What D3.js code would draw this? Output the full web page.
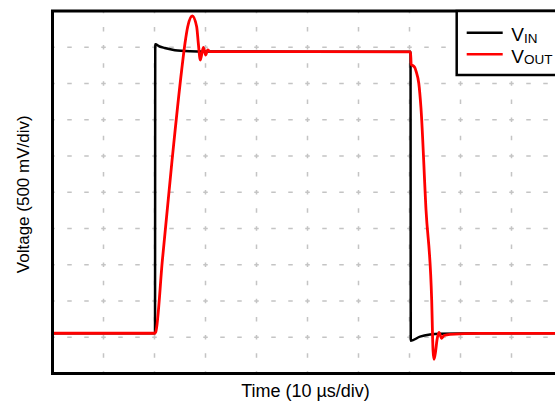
<!DOCTYPE html>
<html>
<head>
<meta charset="utf-8">
<script src="https://cdn.jsdelivr.net/npm/d3@7"></script>
<style>
  body { margin: 0; background: #fff; }
  svg { display: block; font-family: "Liberation Sans", Arial, sans-serif; }
</style>
</head>
<body>
<svg id="chart"></svg>
<script>
// time in us, voltage in V (10 us/div, 0.5 V/div)
const vinTime  = [0, 20.1, 20.15, 21, 22, 24, 27, 30, 70.2, 70.25, 72.06, 74.02, 75.98, 83.8, 100];
const vinVolts = [0.555, 0.555, 4.54, 4.51, 4.49, 4.46, 4.445, 4.441, 4.437, 0.452, 0.508, 0.538, 0.549, 0.555, 0.555];

const voutTime  = [0, 20.0, 20.25, 21.55, 23.45, 25.33, 25.98, 26.51, 27.41, 28.27, 28.59, 28.98,
                   29.57, 30.04, 30.43, 30.88, 70.2, 70.33, 70.78, 71.08, 71.31, 71.82, 72.25, 73.24,
                   74.35, 74.61, 74.8, 75.1, 75.39, 75.78, 76.31, 76.76, 77.94, 83.82, 100];
const voutVolts = [0.555, 0.555, 0.575, 1.566, 2.945, 4.186, 4.555, 4.783, 4.931, 4.783, 4.555, 4.324,
                   4.499, 4.393, 4.462, 4.441, 4.437, 4.262, 4.241, 4.214, 4.163, 4.003, 3.662, 2.255,
                   1.014, 0.324, 0.196, 0.297, 0.462, 0.568, 0.486, 0.524, 0.541, 0.553, 0.555];

const seriesNames = ["IN", "OUT"];
const seriesColors = ["#000000", "#ff0000"];

const width = 555, height = 407;
const margin = { left: 52.5, top: 11, right: -7.5, bottom: 33.5 };

const svg = d3.select("#chart").attr("width", width).attr("height", height);

const x = d3.scaleLinear().domain([0, 100]).range([margin.left, width - margin.right]);
const y = d3.scaleLinear().domain([0, 5]).range([height - margin.bottom, margin.top]);

svg.append("defs").append("clipPath").attr("id", "plot")
    .append("rect")
    .attr("x", x(0)).attr("y", y(5))
    .attr("width", x(100) - x(0)).attr("height", y(0) - y(5));

// grid
const divX = x(10) - x(0), divY = y(0) - y(0.5);
const grid = svg.append("g").attr("stroke", "#c4c4c4").attr("stroke-width", 1.5);

grid.selectAll("line.h")
    .data(d3.range(0.5, 5, 0.5))
    .enter().append("line")
    .attr("x1", x(0)).attr("x2", x(100))
    .attr("y1", d => y(d)).attr("y2", d => y(d))
    .attr("stroke-dasharray", `4.5,${divX / 3 - 4.5}`)
    .attr("stroke-dashoffset", 2.25);

grid.selectAll("line.v")
    .data(d3.range(10, 100, 10))
    .enter().append("line")
    .attr("x1", d => x(d)).attr("x2", d => x(d))
    .attr("y1", y(5)).attr("y2", y(0))
    .attr("stroke-dasharray", `4.5,${divY / 2 - 4.5}`)
    .attr("stroke-dashoffset", 2.25);

// traces
const line = d3.line()
    .x(d => x(d[0]))
    .y(d => y(d[1]))
    .curve(d3.curveMonotoneX);

const traces = [d3.zip(vinTime, vinVolts), d3.zip(voutTime, voutVolts)];

svg.append("g").attr("clip-path", "url(#plot)")
    .selectAll("path")
    .data(traces)
    .enter().append("path")
    .attr("d", line)
    .attr("fill", "none")
    .attr("stroke", (d, i) => seriesColors[i])
    .attr("stroke-width", (d, i) => i == 0 ? 2.5 : 2.8)
    .attr("stroke-linejoin", "round");

// frame
svg.append("rect")
    .attr("x", x(0)).attr("y", y(5))
    .attr("width", x(100) - x(0)).attr("height", y(0) - y(5))
    .attr("fill", "none")
    .attr("stroke", "#000")
    .attr("stroke-width", 3);

// legend
const legend = svg.append("g");
legend.append("rect")
    .attr("x", 456.7).attr("y", y(5))
    .attr("width", 120).attr("height", 64)
    .attr("fill", "#fff")
    .attr("stroke", "#000")
    .attr("stroke-width", 2.5);

const items = legend.selectAll("g.item")
    .data(seriesNames)
    .enter().append("g")
    .attr("transform", (d, i) => `translate(466.7,${32.7 + i * 21.6})`);

items.append("line")
    .attr("x1", 0).attr("x2", 36)
    .attr("stroke", (d, i) => seriesColors[i])
    .attr("stroke-width", 2.5);

const lt = items.append("text")
    .attr("x", 44.5).attr("y", 8.5)
    .attr("font-size", "19px");
lt.append("tspan").text("V");
lt.append("tspan").attr("dy", 1.5).attr("font-size", "13.5px").text(d => d);

// axis titles
svg.append("text")
    .attr("x", (x(0) + x(100)) / 2 - 2).attr("y", 397)
    .attr("text-anchor", "middle")
    .attr("font-size", "18px")
    .text("Time (10 µs/div)");

svg.append("text")
    .attr("transform", `translate(28.5,${(y(0) + y(5)) / 2 + 2}) rotate(-90)`)
    .attr("text-anchor", "middle")
    .attr("font-size", "17px")
    .text("Voltage (500 mV/div)");
</script>
</body>
</html>
